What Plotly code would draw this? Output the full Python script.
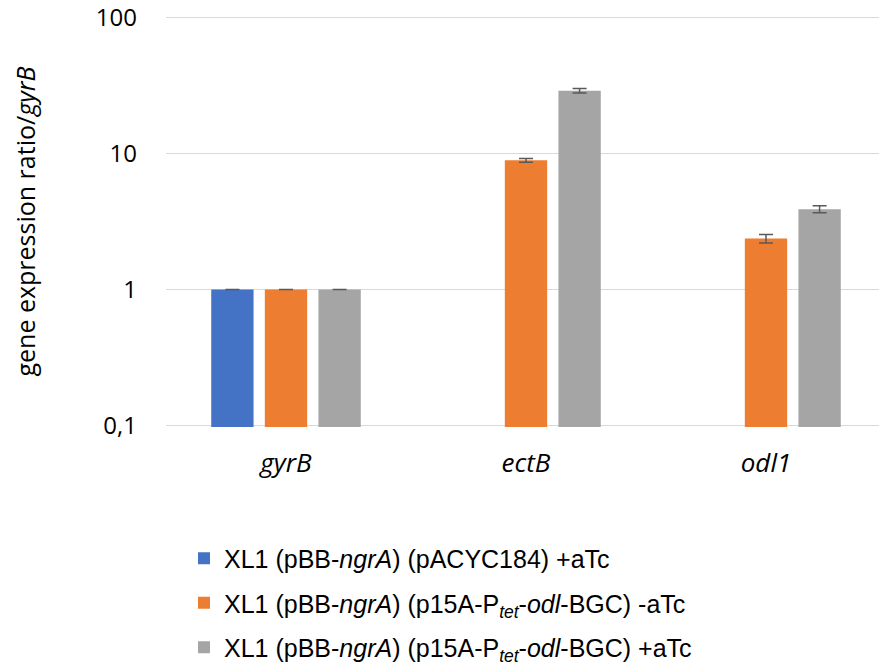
import plotly.graph_objects as go

categories = ["<i>gyrB</i>", "<i>ectB</i>", "<i>odl1</i>"]

series_names = [
    "XL1 (pBB-<i>ngrA</i>) (pACYC184) +aTc",
    "XL1 (pBB-<i>ngrA</i>) (p15A-P<sub><i>tet</i></sub>-<i>odl</i>-BGC) -aTc",
    "XL1 (pBB-<i>ngrA</i>) (p15A-P<sub><i>tet</i></sub>-<i>odl</i>-BGC) +aTc",
]
blue_vals = [1.0, None, None]
blue_err = [0.0, None, None]
orange_vals = [1.0, 8.9, 2.37]
orange_err = [0.0, 0.3, 0.17]
gray_vals = [1.0, 28.9, 3.89]
gray_err = [0.0, 1.1, 0.23]

colors = ["#4472C4", "#ED7D31", "#A5A5A5"]
tick_vals = [0.1, 1, 10, 100]
tick_text = ["0,1", "1", "10", "100"]

fig = go.Figure()
for i, (name, vals, errs) in enumerate(zip(series_names,
                                          [blue_vals, orange_vals, gray_vals],
                                          [blue_err, orange_err, gray_err])):
    fig.add_trace(go.Bar(
        x=categories, y=vals, name=name,
        marker=dict(color=colors[i], line=dict(width=0)),
        error_y=dict(type="data", array=errs, visible=True,
                     color="#595959", thickness=1.5, width=7),
        legendgroup=f"g{i}",
    ))

# page body has an 8px default margin, so the figure is sized to fit
fig.update_layout(
    width=879, height=658,
    paper_bgcolor="white", plot_bgcolor="white",
    margin=dict(l=158, r=1, t=8, b=239, autoexpand=False),
    barmode="group", bargap=0.33, bargroupgap=0.21,
    font=dict(family="Open Sans", color="#000000"),
    showlegend=True,
    legend=dict(
        x=0.025, y=-0.264, xanchor="left", yanchor="top",
        font=dict(family="Liberation Sans", size=25, color="#000000"),
        traceorder="grouped", tracegroupgap=9,
        itemwidth=30,
    ),
    xaxis=dict(
        showline=False, showgrid=False, ticks="", automargin=False,
        tickfont=dict(family="Open Sans", size=26),
        ticklabelstandoff=18,
    ),
    yaxis=dict(
        type="log", range=[-1.01, 2.01], automargin=False,
        tickvals=tick_vals, ticktext=tick_text,
        ticklabeloverflow="allow",
        showgrid=True, gridcolor="#D9D9D9", gridwidth=1,
        zeroline=False, showline=False, ticks="",
        tickfont=dict(family="Open Sans", size=24),
        ticklabelstandoff=28,
        title=dict(text="gene expression ratio/<i>gyrB</i>",
                   font=dict(family="Open Sans", size=25), standoff=57),
    ),
)

fig.write_html("out.html")
